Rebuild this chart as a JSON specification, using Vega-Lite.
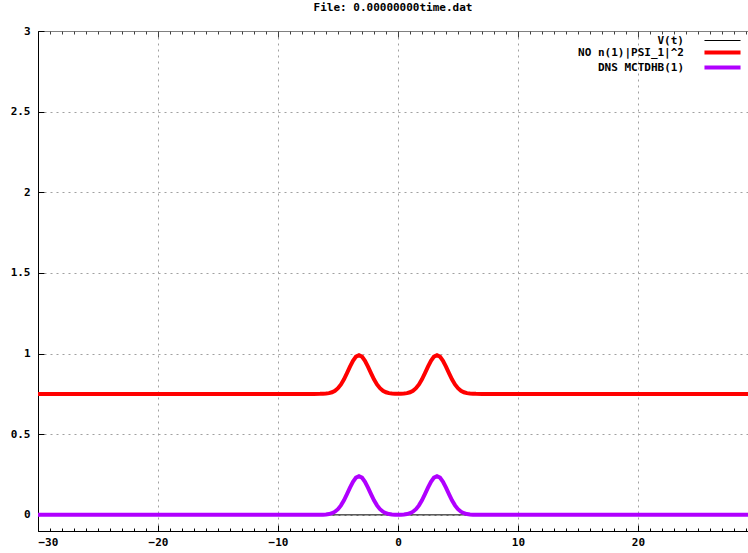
{
  "$schema": "https://vega.github.io/schema/vega-lite/v6.json",
  "width": 710,
  "height": 500,
  "autosize": {"type": "none"},
  "padding": {"left": 38, "top": 31, "right": 0, "bottom": 22},
  "background": "white",
  "title": {"text": "File: 0.00000000time.dat", "font": "DejaVu Sans Mono", "fontSize": 11, "fontWeight": "bold", "color": "black", "anchor": "middle", "offset": 12, "frame": "group"},
  "config": {"view": {"stroke": null}, "axis": {"labelFont": "DejaVu Sans Mono", "labelFontSize": 11, "labelFontWeight": "bold", "labelColor": "black", "title": null}},
  "data": {"values": [
    {"x": -30, "y": 0, "s": "V(t)"}, {"x": -20, "y": 0, "s": "V(t)"}, {"x": -10, "y": 0, "s": "V(t)"}, {"x": 0, "y": 0, "s": "V(t)"}, {"x": 10, "y": 0, "s": "V(t)"}, {"x": 20, "y": 0, "s": "V(t)"}, {"x": 30, "y": 0, "s": "V(t)"},
    {"x": -30, "y": 0.75, "s": "NO n(1)|PSI_1|^2"}, {"x": -20, "y": 0.75, "s": "NO n(1)|PSI_1|^2"}, {"x": -10, "y": 0.75, "s": "NO n(1)|PSI_1|^2"}, {"x": -7, "y": 0.75, "s": "NO n(1)|PSI_1|^2"},
    {"x": -6.5, "y": 0.7503, "s": "NO n(1)|PSI_1|^2"}, {"x": -6.25, "y": 0.7509, "s": "NO n(1)|PSI_1|^2"}, {"x": -6, "y": 0.7521, "s": "NO n(1)|PSI_1|^2"}, {"x": -5.75, "y": 0.7548, "s": "NO n(1)|PSI_1|^2"},
    {"x": -5.5, "y": 0.7602, "s": "NO n(1)|PSI_1|^2"}, {"x": -5.25, "y": 0.7697, "s": "NO n(1)|PSI_1|^2"}, {"x": -5, "y": 0.7854, "s": "NO n(1)|PSI_1|^2"}, {"x": -4.75, "y": 0.8088, "s": "NO n(1)|PSI_1|^2"},
    {"x": -4.5, "y": 0.8404, "s": "NO n(1)|PSI_1|^2"}, {"x": -4.25, "y": 0.8785, "s": "NO n(1)|PSI_1|^2"}, {"x": -4, "y": 0.9188, "s": "NO n(1)|PSI_1|^2"}, {"x": -3.75, "y": 0.9553, "s": "NO n(1)|PSI_1|^2"},
    {"x": -3.5, "y": 0.9808, "s": "NO n(1)|PSI_1|^2"}, {"x": -3.25, "y": 0.99, "s": "NO n(1)|PSI_1|^2"}, {"x": -3, "y": 0.9808, "s": "NO n(1)|PSI_1|^2"}, {"x": -2.75, "y": 0.9553, "s": "NO n(1)|PSI_1|^2"},
    {"x": -2.5, "y": 0.9188, "s": "NO n(1)|PSI_1|^2"}, {"x": -2.25, "y": 0.8785, "s": "NO n(1)|PSI_1|^2"}, {"x": -2, "y": 0.8404, "s": "NO n(1)|PSI_1|^2"}, {"x": -1.75, "y": 0.8088, "s": "NO n(1)|PSI_1|^2"},
    {"x": -1.5, "y": 0.7854, "s": "NO n(1)|PSI_1|^2"}, {"x": -1.25, "y": 0.7697, "s": "NO n(1)|PSI_1|^2"}, {"x": -1, "y": 0.7602, "s": "NO n(1)|PSI_1|^2"}, {"x": -0.75, "y": 0.7548, "s": "NO n(1)|PSI_1|^2"},
    {"x": -0.5, "y": 0.7522, "s": "NO n(1)|PSI_1|^2"}, {"x": -0.25, "y": 0.751, "s": "NO n(1)|PSI_1|^2"}, {"x": 0, "y": 0.7506, "s": "NO n(1)|PSI_1|^2"},
    {"x": 0.25, "y": 0.751, "s": "NO n(1)|PSI_1|^2"}, {"x": 0.5, "y": 0.7522, "s": "NO n(1)|PSI_1|^2"}, {"x": 0.75, "y": 0.7548, "s": "NO n(1)|PSI_1|^2"}, {"x": 1, "y": 0.7602, "s": "NO n(1)|PSI_1|^2"},
    {"x": 1.25, "y": 0.7697, "s": "NO n(1)|PSI_1|^2"}, {"x": 1.5, "y": 0.7854, "s": "NO n(1)|PSI_1|^2"}, {"x": 1.75, "y": 0.8088, "s": "NO n(1)|PSI_1|^2"}, {"x": 2, "y": 0.8404, "s": "NO n(1)|PSI_1|^2"},
    {"x": 2.25, "y": 0.8785, "s": "NO n(1)|PSI_1|^2"}, {"x": 2.5, "y": 0.9188, "s": "NO n(1)|PSI_1|^2"}, {"x": 2.75, "y": 0.9553, "s": "NO n(1)|PSI_1|^2"}, {"x": 3, "y": 0.9808, "s": "NO n(1)|PSI_1|^2"},
    {"x": 3.25, "y": 0.99, "s": "NO n(1)|PSI_1|^2"}, {"x": 3.5, "y": 0.9808, "s": "NO n(1)|PSI_1|^2"}, {"x": 3.75, "y": 0.9553, "s": "NO n(1)|PSI_1|^2"}, {"x": 4, "y": 0.9188, "s": "NO n(1)|PSI_1|^2"},
    {"x": 4.25, "y": 0.8785, "s": "NO n(1)|PSI_1|^2"}, {"x": 4.5, "y": 0.8404, "s": "NO n(1)|PSI_1|^2"}, {"x": 4.75, "y": 0.8088, "s": "NO n(1)|PSI_1|^2"}, {"x": 5, "y": 0.7854, "s": "NO n(1)|PSI_1|^2"},
    {"x": 5.25, "y": 0.7697, "s": "NO n(1)|PSI_1|^2"}, {"x": 5.5, "y": 0.7602, "s": "NO n(1)|PSI_1|^2"}, {"x": 5.75, "y": 0.7548, "s": "NO n(1)|PSI_1|^2"}, {"x": 6, "y": 0.7521, "s": "NO n(1)|PSI_1|^2"},
    {"x": 6.25, "y": 0.7509, "s": "NO n(1)|PSI_1|^2"}, {"x": 6.5, "y": 0.7503, "s": "NO n(1)|PSI_1|^2"},
    {"x": 7, "y": 0.75, "s": "NO n(1)|PSI_1|^2"}, {"x": 10, "y": 0.75, "s": "NO n(1)|PSI_1|^2"}, {"x": 20, "y": 0.75, "s": "NO n(1)|PSI_1|^2"}, {"x": 30, "y": 0.75, "s": "NO n(1)|PSI_1|^2"},
    {"x": -30, "y": 0, "s": "DNS MCTDHB(1)"}, {"x": -20, "y": 0, "s": "DNS MCTDHB(1)"}, {"x": -10, "y": 0, "s": "DNS MCTDHB(1)"}, {"x": -7, "y": 0, "s": "DNS MCTDHB(1)"},
    {"x": -6.5, "y": 0.0003, "s": "DNS MCTDHB(1)"}, {"x": -6.25, "y": 0.0009, "s": "DNS MCTDHB(1)"}, {"x": -6, "y": 0.0021, "s": "DNS MCTDHB(1)"}, {"x": -5.75, "y": 0.0048, "s": "DNS MCTDHB(1)"},
    {"x": -5.5, "y": 0.0102, "s": "DNS MCTDHB(1)"}, {"x": -5.25, "y": 0.0197, "s": "DNS MCTDHB(1)"}, {"x": -5, "y": 0.0354, "s": "DNS MCTDHB(1)"}, {"x": -4.75, "y": 0.0588, "s": "DNS MCTDHB(1)"},
    {"x": -4.5, "y": 0.0904, "s": "DNS MCTDHB(1)"}, {"x": -4.25, "y": 0.1285, "s": "DNS MCTDHB(1)"}, {"x": -4, "y": 0.1688, "s": "DNS MCTDHB(1)"}, {"x": -3.75, "y": 0.2053, "s": "DNS MCTDHB(1)"},
    {"x": -3.5, "y": 0.2308, "s": "DNS MCTDHB(1)"}, {"x": -3.25, "y": 0.24, "s": "DNS MCTDHB(1)"}, {"x": -3, "y": 0.2308, "s": "DNS MCTDHB(1)"}, {"x": -2.75, "y": 0.2053, "s": "DNS MCTDHB(1)"},
    {"x": -2.5, "y": 0.1688, "s": "DNS MCTDHB(1)"}, {"x": -2.25, "y": 0.1285, "s": "DNS MCTDHB(1)"}, {"x": -2, "y": 0.0904, "s": "DNS MCTDHB(1)"}, {"x": -1.75, "y": 0.0588, "s": "DNS MCTDHB(1)"},
    {"x": -1.5, "y": 0.0354, "s": "DNS MCTDHB(1)"}, {"x": -1.25, "y": 0.0197, "s": "DNS MCTDHB(1)"}, {"x": -1, "y": 0.0102, "s": "DNS MCTDHB(1)"}, {"x": -0.75, "y": 0.0048, "s": "DNS MCTDHB(1)"},
    {"x": -0.5, "y": 0.0022, "s": "DNS MCTDHB(1)"}, {"x": -0.25, "y": 0.001, "s": "DNS MCTDHB(1)"}, {"x": 0, "y": 0.0006, "s": "DNS MCTDHB(1)"},
    {"x": 0.25, "y": 0.001, "s": "DNS MCTDHB(1)"}, {"x": 0.5, "y": 0.0022, "s": "DNS MCTDHB(1)"}, {"x": 0.75, "y": 0.0048, "s": "DNS MCTDHB(1)"}, {"x": 1, "y": 0.0102, "s": "DNS MCTDHB(1)"},
    {"x": 1.25, "y": 0.0197, "s": "DNS MCTDHB(1)"}, {"x": 1.5, "y": 0.0354, "s": "DNS MCTDHB(1)"}, {"x": 1.75, "y": 0.0588, "s": "DNS MCTDHB(1)"}, {"x": 2, "y": 0.0904, "s": "DNS MCTDHB(1)"},
    {"x": 2.25, "y": 0.1285, "s": "DNS MCTDHB(1)"}, {"x": 2.5, "y": 0.1688, "s": "DNS MCTDHB(1)"}, {"x": 2.75, "y": 0.2053, "s": "DNS MCTDHB(1)"}, {"x": 3, "y": 0.2308, "s": "DNS MCTDHB(1)"},
    {"x": 3.25, "y": 0.24, "s": "DNS MCTDHB(1)"}, {"x": 3.5, "y": 0.2308, "s": "DNS MCTDHB(1)"}, {"x": 3.75, "y": 0.2053, "s": "DNS MCTDHB(1)"}, {"x": 4, "y": 0.1688, "s": "DNS MCTDHB(1)"},
    {"x": 4.25, "y": 0.1285, "s": "DNS MCTDHB(1)"}, {"x": 4.5, "y": 0.0904, "s": "DNS MCTDHB(1)"}, {"x": 4.75, "y": 0.0588, "s": "DNS MCTDHB(1)"}, {"x": 5, "y": 0.0354, "s": "DNS MCTDHB(1)"},
    {"x": 5.25, "y": 0.0197, "s": "DNS MCTDHB(1)"}, {"x": 5.5, "y": 0.0102, "s": "DNS MCTDHB(1)"}, {"x": 5.75, "y": 0.0048, "s": "DNS MCTDHB(1)"}, {"x": 6, "y": 0.0021, "s": "DNS MCTDHB(1)"},
    {"x": 6.25, "y": 0.0009, "s": "DNS MCTDHB(1)"}, {"x": 6.5, "y": 0.0003, "s": "DNS MCTDHB(1)"},
    {"x": 7, "y": 0, "s": "DNS MCTDHB(1)"}, {"x": 10, "y": 0, "s": "DNS MCTDHB(1)"}, {"x": 20, "y": 0, "s": "DNS MCTDHB(1)"}, {"x": 30, "y": 0, "s": "DNS MCTDHB(1)"}
  ]},
  "resolve": {"axis": {"x": "independent", "y": "independent"}},
  "layer": [
    {
      "transform": [{"filter": "datum.s === 'V(t)'"}],
      "mark": {"type": "line", "strokeWidth": 1, "clip": true},
      "encoding": {
        "x": {"field": "x", "type": "quantitative", "scale": {"domain": [-30, 29.17], "nice": false, "zero": false},
              "axis": {"orient": "bottom", "values": [-30, -20, -10, 0, 10, 20], "format": "d", "grid": true, "gridColor": "#a0a0a0", "gridDash": [2, 4], "gridWidth": 1, "tickSize": -6, "tickColor": "black", "domainColor": "black", "labelPadding": 11}},
        "y": {"field": "y", "type": "quantitative", "scale": {"domain": [-0.1, 3], "nice": false, "zero": false},
              "axis": {"orient": "left", "values": [0, 0.5, 1, 1.5, 2, 2.5, 3], "format": "~g", "grid": true, "gridColor": "#a0a0a0", "gridDash": [2, 4], "gridWidth": 1, "tickSize": -6, "tickColor": "black", "domainColor": "black", "labelPadding": 14}},
        "color": {"field": "s", "type": "nominal", "sort": null,
                  "scale": {"domain": ["V(t)", "NO n(1)|PSI_1|^2", "DNS MCTDHB(1)"], "range": ["black", "#ff0000", "#b000ff"]},
                  "legend": {"orient": "none", "legendX": 679, "legendY": 4, "title": null, "padding": 0, "symbolType": "stroke", "symbolSize": 1300, "symbolStrokeWidth": 4, "labelAlign": "right", "labelOffset": -44, "labelFont": "DejaVu Sans Mono", "labelFontSize": 11, "labelFontWeight": "bold", "labelColor": "black", "rowPadding": -2, "labelLimit": 300,
                             "encode": {"symbols": {"update": {"strokeWidth": {"signal": "datum.value === 'V(t)' ? 1 : 4"}}}}}}
      }
    },
    {
      "transform": [{"filter": "datum.s !== 'V(t)'"}],
      "mark": {"type": "line", "strokeWidth": 4, "clip": true},
      "encoding": {
        "x": {"field": "x", "type": "quantitative",
              "axis": {"orient": "bottom", "values": [-30,-29,-28,-27,-26,-25,-24,-23,-22,-21,-20,-19,-18,-17,-16,-15,-14,-13,-12,-11,-10,-9,-8,-7,-6,-5,-4,-3,-2,-1,0,1,2,3,4,5,6,7,8,9,10,11,12,13,14,15,16,17,18,19,20,21,22,23,24,25,26,27,28,29], "labels": false, "grid": false, "domain": false, "tickSize": -3, "tickColor": "black"}},
        "y": {"field": "y", "type": "quantitative", "axis": null},
        "color": {"field": "s", "type": "nominal", "sort": null,
                  "scale": {"domain": ["V(t)", "NO n(1)|PSI_1|^2", "DNS MCTDHB(1)"], "range": ["black", "#ff0000", "#b000ff"]},
                  "legend": {"orient": "none", "legendX": 679, "legendY": 4, "title": null, "padding": 0, "symbolType": "stroke", "symbolSize": 1300, "symbolStrokeWidth": 4, "labelAlign": "right", "labelOffset": -44, "labelFont": "DejaVu Sans Mono", "labelFontSize": 11, "labelFontWeight": "bold", "labelColor": "black", "rowPadding": -2, "labelLimit": 300,
                             "encode": {"symbols": {"update": {"strokeWidth": {"signal": "datum.value === 'V(t)' ? 1 : 4"}}}}}}
      }
    },
    {
      "transform": [{"filter": "datum.s === 'V(t)'"}],
      "mark": {"type": "line", "opacity": 0},
      "encoding": {
        "x": {"field": "x", "type": "quantitative",
              "axis": {"orient": "top", "values": [-30, -20, -10, 0, 10, 20], "labels": false, "grid": false, "domain": true, "domainColor": "#808080", "tickSize": -6, "tickColor": "#404040"}},
        "y": {"field": "y", "type": "quantitative", "axis": null}
      }
    },
    {
      "transform": [{"filter": "datum.s === 'V(t)'"}],
      "mark": {"type": "line", "opacity": 0},
      "encoding": {
        "x": {"field": "x", "type": "quantitative",
              "axis": {"orient": "top", "values": [-30,-29,-28,-27,-26,-25,-24,-23,-22,-21,-20,-19,-18,-17,-16,-15,-14,-13,-12,-11,-10,-9,-8,-7,-6,-5,-4,-3,-2,-1,0,1,2,3,4,5,6,7,8,9,10,11,12,13,14,15,16,17,18,19,20,21,22,23,24,25,26,27,28,29], "labels": false, "grid": false, "domain": false, "tickSize": -3, "tickColor": "#404040"}},
        "y": {"field": "y", "type": "quantitative", "axis": null}
      }
    }
  ]
}
